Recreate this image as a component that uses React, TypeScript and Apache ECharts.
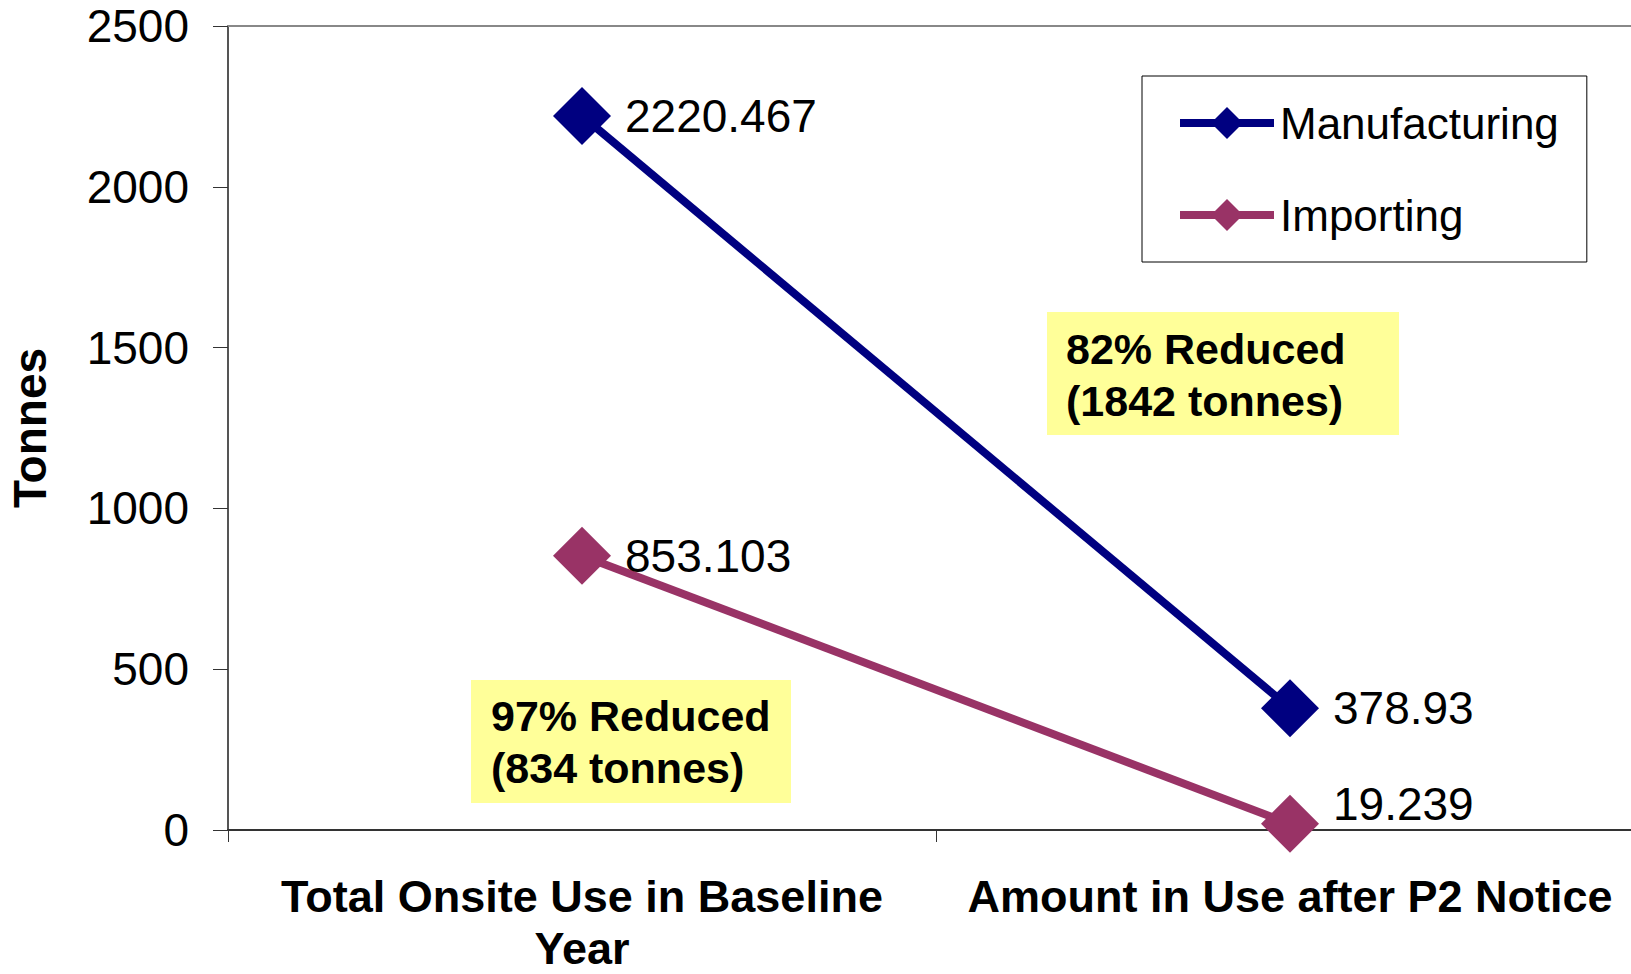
import React, { useEffect, useRef } from "react";
import * as echarts from "echarts";

const categories = ["Total Onsite Use in Baseline\nYear", "Amount in Use after P2 Notice"];
const manufacturing = [2220.467, 378.93];
const importing = [853.103, 19.239];
const seriesNames = ["Manufacturing", "Importing"];
const annotationTexts = ["82% Reduced\n(1842 tonnes)", "97% Reduced\n(834 tonnes)"];

const FONT = '"Liberation Sans", Arial, sans-serif';

export default function App() {
  const ref = useRef<HTMLDivElement>(null);
  useEffect(() => {
    if (!ref.current) return;
    const chart = echarts.init(ref.current, undefined, { renderer: "svg" });
    const labelBase = {
      show: true,
      position: "right",
      distance: 14,
      fontSize: 46,
      fontFamily: FONT,
      color: "#000",
    };
    chart.setOption({
      animation: false,
      backgroundColor: "#fff",
      textStyle: { fontFamily: FONT },
      grid: { left: 228, top: 26, width: 1416, height: 804, containLabel: false, outerBoundsMode: "none" },
      legend: {
        orient: "vertical",
        left: 1142,
        top: 76,
        borderColor: "#000",
        borderWidth: 1,
        padding: [25, 28, 25, 34],
        itemWidth: 94,
        itemHeight: 40,
        itemGap: 48,
        lineStyle: { width: 8 },
        textStyle: { fontSize: 44, fontFamily: FONT, color: "#000", padding: [0, 0, 0, 1] },
        data: seriesNames,
      },
      xAxis: [
        {
          type: "category",
          data: categories,
          boundaryGap: true,
          axisLine: { lineStyle: { color: "#333", width: 2 } },
          axisTick: { show: true, length: 12, lineStyle: { color: "#333", width: 1 } },
          axisLabel: {
            fontSize: 45,
            fontWeight: "bold",
            fontFamily: FONT,
            color: "#000",
            margin: 40,
            lineHeight: 52,
            interval: 0,
          },
        },
        {
          type: "category",
          position: "top",
          data: categories,
          axisLine: { lineStyle: { color: "#888", width: 2 } },
          axisTick: { show: false },
          axisLabel: { show: false },
        },
      ],
      yAxis: {
        type: "value",
        min: 0,
        max: 2500,
        interval: 500,
        name: "Tonnes",
        nameLocation: "middle",
        nameRotate: 90,
        nameGap: 175,
        nameTextStyle: { fontSize: 46, fontWeight: "bold", fontFamily: FONT, color: "#000" },
        axisLine: { show: true, lineStyle: { color: "#555", width: 2 } },
        axisTick: { show: true, length: 15, lineStyle: { color: "#333", width: 1 } },
        axisLabel: {
          fontSize: 46,
          fontFamily: FONT,
          color: "#000",
          margin: 39,
          formatter: (v: number) => String(v),
        },
        splitLine: { show: false },
      },
      series: [
        {
          name: seriesNames[0],
          type: "line",
          data: manufacturing,
          symbol: "diamond",
          symbolSize: 58,
          color: "#000080",
          lineStyle: { width: 8, color: "#000080" },
          itemStyle: { color: "#000080" },
          label: labelBase,
          z: 3,
        },
        {
          name: seriesNames[1],
          type: "line",
          data: importing.map((v, i) =>
            i === importing.length - 1 ? { value: v, label: { offset: [0, -20] } } : v
          ),
          symbol: "diamond",
          symbolSize: 58,
          color: "#993366",
          lineStyle: { width: 8, color: "#993366" },
          itemStyle: { color: "#993366" },
          label: labelBase,
          z: 2,
        },
      ],
      graphic: [
        {
          type: "group",
          children: [
            { type: "rect", shape: { x: 1047, y: 312, width: 352, height: 123 }, style: { fill: "#FFFF99" } },
            {
              type: "text",
              x: 1066,
              y: 323,
              style: {
                text: annotationTexts[0],
                font: `bold 43px ${FONT}`,
                fill: "#000",
                lineHeight: 52,
                verticalAlign: "top",
              },
            },
            { type: "rect", shape: { x: 471, y: 680, width: 320, height: 123 }, style: { fill: "#FFFF99" } },
            {
              type: "text",
              x: 491,
              y: 690,
              style: {
                text: annotationTexts[1],
                font: `bold 43px ${FONT}`,
                fill: "#000",
                lineHeight: 52,
                verticalAlign: "top",
              },
            },
          ],
        },
      ],
    });
    return () => chart.dispose();
  }, []);
  return (
    <div
      ref={ref}
      style={{ position: "fixed", left: 0, top: 0, width: 1631, height: 974 }}
    />
  );
}
